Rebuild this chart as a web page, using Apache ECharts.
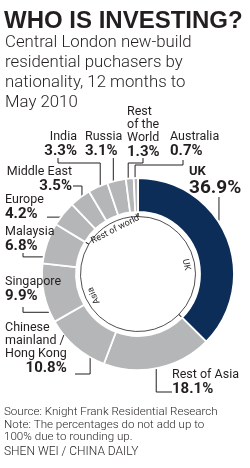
<!DOCTYPE html>
<html>
<head>
<meta charset="UTF-8"/>
<title>Who is investing</title>
<style>
  html, body { margin: 0; background: #fff; }
</style>
<script src="https://cdn.jsdelivr.net/npm/echarts@6/dist/echarts.min.js"></script>
</head>
<body>
<div id="container" style="width: 250px; height: 468px;"></div>
<script>
  // purchasers by nationality, %, clockwise from 12 o'clock
  var names = ['UK', 'Rest of Asia', 'Chinese\nmainland /\nHong Kong', 'Singapore', 'Malaysia', 'Europe',
               'Middle East', 'India', 'Russia', 'Rest\nof the\nWorld', 'Australia'];
  var shares = [36.9, 18.1, 10.8, 9.9, 6.8, 4.2, 3.5, 3.3, 3.1, 1.3, 0.7];
  // inner ring groups
  var groups = ['UK', 'Asia', 'Rest of world'];
  var groupShares = [36.9, 45.6, 16.1];

  var ink = '#231f20', navy = '#0b2d57', grey = '#b5b6b8';
  var cx = 138, cy = 274;

  // label boxes; t/r = where the leader line meets the slice (fraction of slice, radius)
  // 'sx'/'sy' in a path = that point's x / y
  var labelPos = [
    {x: 189, y: 165, align: 'left',  t: 0.42, r: 97, path: [['sx', 197]]},
    {x: 172, y: 368, align: 'left',  t: 0.5,  r: 86, path: [[172, 392], ['sx', 392]]},
    {x: 5,   y: 321, align: 'left',  t: 0.33, r: 86, path: [[75, 374], ['sx', 374]]},
    {x: 5,   y: 275, align: 'left',  t: 0.18, r: 97, path: [[23, 307], [23, 'sy']]},
    {x: 5,   y: 225, align: 'left',  t: 0.21, r: 85, path: [[23, 253], [23, 'sy']]},
    {x: 5,   y: 193, align: 'left',  t: 0.52, r: 90, path: [[47, 'sy']]},
    {x: 72,  y: 165, align: 'right', t: 0.5,  r: 93, path: [[73, 186], ['sx', 186]]},
    {x: 77,  y: 130, align: 'right', t: 0.6,  r: 95, path: [[58, 158], [58, 163], ['sx', 163]]},
    {x: 85,  y: 130, align: 'left',  t: 0.27, r: 92, path: [['sx', 158]]},
    {x: 127, y: 105, align: 'left',  t: 0.25, r: 92, path: [[143, 158], [143, 163], ['sx', 163]]},
    {x: 170, y: 130, align: 'left',  t: 0.3,  r: 94, path: [[183, 160], [183, 165], ['sx', 165]]}
  ];
  // inner ring text: angle (deg clockwise from top), radius
  var groupPos = [
    {a: 79, r: 49}, {a: 244, r: 49}, {a: 333, r: 50}
  ];

  var total = shares.reduce(function (s, v) { return s + v; }, 0);
  var cum = [0];
  shares.forEach(function (v, i) { cum.push(cum[i] + v); });

  function slicePoint(i, t, r) {
    var a = (cum[i] + t * shares[i]) / total * 2 * Math.PI;
    return [cx + r * Math.sin(a), cy - r * Math.cos(a)];
  }

  var dom = document.getElementById('container');
  var myChart = echarts.init(dom);
  var font = 'Roboto';

  var option = {
    animation: false,
    title: [
      {text: 'WHO IS INVESTING?', left: 4, top: 9, padding: 0,
       textStyle: {fontFamily: 'Liberation Sans', fontWeight: 'bold', fontSize: 24, color: ink}},
      {text: 'Central London new-build\nresidential puchasers by\nnationality, 12 months to\nMay 2010',
       left: 5, top: 33, padding: 0,
       textStyle: {fontFamily: font, fontWeight: 300, fontSize: 16.8, lineHeight: 20, color: ink}},
      {text: 'Source: Knight Frank Residential Research\nNote: The percentages do not add up to\n100% due to rounding up.',
       left: 4, top: 406, padding: 0,
       textStyle: {fontFamily: font, fontWeight: 300, fontSize: 11.6, lineHeight: 12.5, color: ink}},
      {text: 'SHEN WEI / CHINA DAILY', left: 4, top: 446, padding: 0,
       textStyle: {fontFamily: font, fontWeight: 300, fontSize: 12, lineHeight: 12, color: ink}}
    ],
    series: [
      {
        // thin circle with ticks at the group boundaries
        type: 'pie',
        center: [cx, cy],
        radius: [57.5, 66],
        startAngle: 90,
        silent: true,
        data: groups.map(function (g, i) { return {name: g, value: groupShares[i]}; }),
        itemStyle: {color: 'rgba(0,0,0,0)', borderColor: ink, borderWidth: 0.8},
        label: {show: true, position: 'inside', fontFamily: font, fontSize: 9, color: ink},
        labelLine: {show: false},
        labelLayout: function (p) {
          var g = groupPos[p.dataIndex];
          var a = g.a * Math.PI / 180;
          return {x: cx + g.r * Math.sin(a), y: cy - g.r * Math.cos(a),
                  align: 'center', verticalAlign: 'middle', rotate: -g.a};
        }
      },
      {
        type: 'pie',
        center: [cx, cy],
        radius: [62, 96],
        startAngle: 90,
        avoidLabelOverlap: false,
        silent: true,
        data: names.map(function (n, i) {
          return {name: n, value: shares[i], itemStyle: {color: i === 0 ? navy : grey}};
        }),
        itemStyle: {borderColor: '#fff', borderWidth: 1.8},
        label: {
          show: true,
          position: 'outside',
          formatter: function (p) {
            var big = p.dataIndex === 0;
            var lines = p.name.split('\n').map(function (s) { return '{' + (big ? 'nb' : 'n') + '|' + s + '}'; });
            var vs = big ? 'vb' : (p.dataIndex === 2 ? 'vr' : 'v');
            return lines.join('\n') + '\n{' + vs + '|' + p.value.toFixed(1) + '%}';
          },
          rich: {
            n: {fontFamily: font, fontSize: 12.5, lineHeight: 13, color: ink},
            nb: {fontFamily: font, fontSize: 13, fontWeight: 'bold', lineHeight: 13, color: ink},
            v: {fontFamily: font, fontSize: 15, fontWeight: 'bold', lineHeight: 17, color: ink},
            vr: {fontFamily: font, fontSize: 15, fontWeight: 'bold', lineHeight: 17, color: ink, align: 'right'},
            vb: {fontFamily: font, fontSize: 19, fontWeight: 'bold', lineHeight: 20, color: ink}
          }
        },
        labelLine: {show: true, length: 5, length2: 5, lineStyle: {color: ink, width: 1}},
        labelLayout: function (p) {
          var L = labelPos[p.dataIndex];
          var e = slicePoint(p.dataIndex, L.t, L.r);
          var pts = L.path.map(function (q) {
            return [q[0] === 'sx' ? e[0] : q[0], q[1] === 'sy' ? e[1] : q[1]];
          });
          pts.push(e);
          return {x: L.x, y: L.y, align: L.align, verticalAlign: 'top', labelLinePoints: pts};
        }
      }
    ]
  };
  myChart.setOption(option);
</script>
</body>
</html>
